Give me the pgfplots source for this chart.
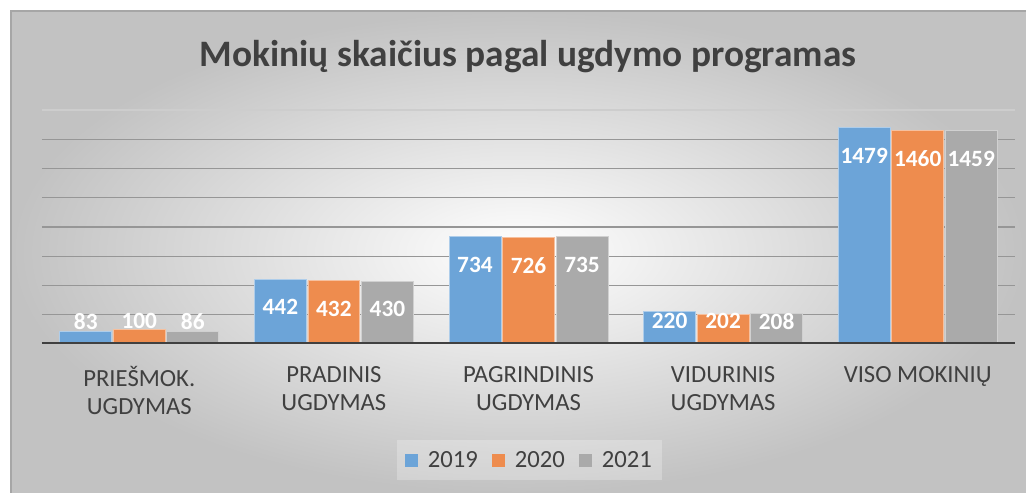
\documentclass[border=0pt]{standalone}
\usepackage{pgfplots}
\pgfplotsset{compat=1.18}
\usepackage{fontspec}
\setmainfont{Carlito}
\definecolor{cblue}{RGB}{108,164,216}
\definecolor{corange}{RGB}{238,140,78}
\definecolor{cgray}{RGB}{170,170,170}
\definecolor{txt}{RGB}{64,64,64}
\definecolor{bgout}{RGB}{194,194,194}
\definecolor{gridc}{RGB}{150,150,150}
\definecolor{gridtop}{RGB}{205,205,205}
\begin{document}
\begin{tikzpicture}
\useasboundingbox (0pt,0pt) rectangle (769.5pt,369.75pt);
\shade[inner color=white, outer color=bgout] (8.25pt,0pt) rectangle (769.5pt,361.5pt);
\draw[gray!70, line width=0.8pt] (8.25pt,0pt) -- (8.25pt,361.5pt) -- (769.5pt,361.5pt);
\begin{axis}[
  at={(31.5pt,111.75pt)}, anchor=south west,
  x=145.95pt, y=0.10969pt,
  xmin=-0.5, xmax=4.5, ymin=0, ymax=1600,
  axis line style={draw=none},
  tick style={draw=none},
  ytick={200,400,...,1400}, yticklabels={},
  extra y ticks={1600}, extra y tick labels={},
  extra y tick style={grid style={color=gridtop, line width=0.9pt}},
  ymajorgrids, grid style={color=gridc, line width=0.9pt},
  xtick={0,1,2,3,4},
  xticklabels={{PRIEŠMOK.\\UGDYMAS},{PRADINIS\\UGDYMAS},{PAGRINDINIS\\UGDYMAS},{VIDURINIS\\UGDYMAS},{VISO MOKINIŲ}},
  xticklabel style={align=center, font=\fontsize{18.5}{21}\selectfont, text=txt, anchor=north, yshift=-13pt},
  title={Mokinių skaičius pagal ugdymo programas},
  title style={at={(0.4995,1.195)}, anchor=center, font=\bfseries\fontsize{28}{32}\selectfont, text=txt},
  /pgf/number format/1000 sep={},
  /pgf/number format/assume math mode=true,
  visualization depends on={rawy \as \ry},
  nodes near coords,
  every node near coord/.append style={font=\bfseries\fontsize{17.5}{21}\selectfont, text=white, anchor=center, yshift={-min(21,(\ry-157)*0.10969)}},
  legend columns=3,
  legend style={at={(0.5015,-0.496)}, anchor=center, draw=none, fill=white, fill opacity=0.25, text opacity=1, font=\fontsize{18.5}{21}\selectfont, text=txt, inner xsep=6pt, inner ysep=6pt, /tikz/every odd column/.append style={column sep=5pt}, /tikz/every even column/.append style={column sep=9pt}},
  legend image code/.code={\fill[#1, draw=none, fill opacity=1] (0pt,-5pt) rectangle (9.75pt,4.75pt);},
]
\addplot[ybar, bar width=0.267, bar shift=-0.275, fill=cblue, draw=cblue!55!white, line width=0.6pt, every node near coord/.append style={xshift=-40.14pt}] coordinates {(0,83) (1,442) (2,734) (3,220) (4,1479)};
\addplot[ybar, bar width=0.267, bar shift=0, fill=corange, draw=corange!55!white, line width=0.6pt] coordinates {(0,100) (1,432) (2,726) (3,202) (4,1460)};
\addplot[ybar, bar width=0.267, bar shift=0.275, fill=cgray, draw=cgray!55!white, line width=0.6pt, every node near coord/.append style={xshift=40.14pt}] coordinates {(0,86) (1,430) (2,735) (3,208) (4,1459)};
\legend{2019,2020,2021}
\draw[txt, line width=2.6pt] (rel axis cs:0,0) -- (rel axis cs:1,0);
\end{axis}
\end{tikzpicture}
\end{document}
